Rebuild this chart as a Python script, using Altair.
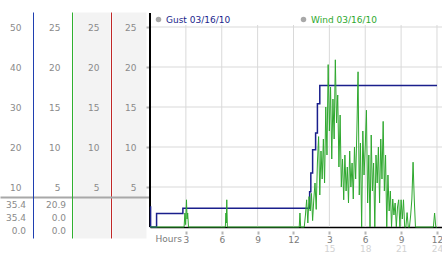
import altair as alt
import pandas as pd

# ---------------- data ----------------
gust_hours = [0.0, 0.05, 0.55, 2.75, 13.35, 13.45, 13.6, 13.85, 14.0, 14.2, 24.0]
gust_mph = [5.0, 0.0, 3.4, 4.7, 8.8, 13.5, 19.3, 23.5, 30.8, 35.4, 35.4]

wind_hours = [0.0, 2.85, 2.92, 2.98, 3.05, 3.1, 3.15, 3.22,
              6.3, 6.35, 6.38, 6.42, 6.47,
              12.48, 12.54, 12.6,
              12.8, 12.9, 13.0, 13.1, 13.2, 13.3, 13.4, 13.5, 13.6, 13.7, 13.8, 13.9,
              14.0, 14.1, 14.2, 14.3, 14.4, 14.5, 14.6, 14.7, 14.8, 14.9,
              15.0, 15.1, 15.2, 15.3, 15.4, 15.5, 15.6, 15.7, 15.8, 15.9,
              16.0, 16.1, 16.2, 16.3, 16.4, 16.5, 16.6, 16.7, 16.8, 16.9,
              17.0, 17.1, 17.2, 17.3, 17.4, 17.5, 17.6, 17.7, 17.8, 17.9,
              18.0, 18.1, 18.2, 18.3, 18.4, 18.5, 18.6, 18.7, 18.8, 18.9,
              19.0, 19.1, 19.2, 19.3, 19.4, 19.5, 19.6, 19.7, 19.8, 19.9,
              20.0, 20.1, 20.2, 20.3, 20.4, 20.5, 20.6, 20.7, 20.8, 20.9,
              21.0, 21.1, 21.2, 21.3, 21.4, 21.5, 21.6, 21.7, 21.8, 21.9,
              22.0, 22.1, 22.2, 22.3,
              23.7, 23.8, 23.9, 24.0]
wind_mph = [0, 0, 1.75, 0.3, 3.4, 1.0, 1.75, 0,
            0, 1.75, 0.5, 3.4, 0,
            0, 1.75, 0,
            0, 0, 1.5, 3.4, 0.5, 3.8, 2.0, 4.2, 0.8, 3.5, 5.5, 2.2,
            8.0, 11.3, 4.0, 9.5, 6.0, 11.0, 5.5, 15.0, 9.0, 20.3,
            12.0, 17.5, 8.5, 16.0, 11.0, 20.9, 13.0, 16.5, 7.5, 14.0,
            5.0, 8.5, 3.4, 9.0, 4.5, 7.5, 3.0, 9.5, 5.0, 8.0,
            3.5, 10.0, 6.0, 12.0, 19.4, 4.0, 10.5, 0, 12.0, 6.5,
            10.0, 14.6, 3.0, 9.0, 0, 11.5, 4.5, 8.0, 0, 9.0,
            5.5, 10.0, 3.0, 11.0, 6.0, 13.2, 4.5, 9.0, 0, 6.5,
            2.0, 4.5, 0, 3.5, 1.5, 3.0, 0, 2.5, 3.4, 0,
            3.4, 1.0, 3.4, 0, 0, 1.8, 0, 0, 1.5, 3.5,
            8.1, 3.5, 0, 0,
            0, 1.75, 0, 0]

grid_hours = [3, 6, 9, 12, 15, 18, 21, 24]
pm_hours = [15, 18, 21, 24]
wind_levels = [5, 10, 15, 20, 25]
gust_levels = [10, 20, 30, 40, 50]

stat_cols = ["gust", "gust", "gust", "wind", "wind", "wind"]
stat_rows = ["max", "cur", "min", "max", "cur", "min"]
stat_vals = [35.4, 35.4, 0.0, 20.9, 0.0, 0.0]

series_names = ["Gust 03/16/10", "Wind 03/16/10"]

# ---------------- styles ----------------
FONT = "DejaVu Sans"
TXT = "#8a8a8a"
GRID = "#d9d9d9"
BG = "#f3f3f3"
NAVY = "#1a1f8c"
GREEN = "#2ea82e"
AX_BLUE = "#1f3fb0"
AX_GREEN = "#30b030"
AX_RED = "#c02828"

W_DOM = [-1.375, 26.875]
G_DOM = [-2.75, 53.75]
X_DOM = [0, 24.42]


def xsc():
    return alt.Scale(domain=X_DOM, nice=False, zero=False)


def wsc():
    return alt.Scale(domain=W_DOM, nice=False, zero=False)


def gsc():
    return alt.Scale(domain=G_DOM, nice=False, zero=False)


def legend(x, color):
    return alt.Legend(orient="none", legendX=x, legendY=3, title=None,
                      symbolType="circle", symbolSize=30,
                      symbolFillColor="#a8a8a8", symbolStrokeWidth=0,
                      labelColor=color, labelFont=FONT, labelFontSize=9,
                      labelOffset=3, padding=0)


one = pd.DataFrame({"k": [0]})
gust_df = pd.DataFrame({"h": gust_hours, "v": gust_mph, "s": series_names[0]})
wind_df = pd.DataFrame({"h": wind_hours, "v": wind_mph, "s": series_names[1]})
vgrid_df = pd.DataFrame({"h": grid_hours})
hgrid_df = pd.DataFrame({"v": wind_levels})
stats_df = pd.DataFrame({"col": stat_cols, "row": stat_rows, "val": stat_vals})

# background bands of the two right-hand scale columns (axis domain lines)
band3 = alt.Chart(one).mark_rule(opacity=0).encode(
    y=alt.YDatum(0, scale=wsc(), axis=alt.Axis(
        orient="left", offset=58.5, domainWidth=37, domainColor=BG,
        labels=False, ticks=False, grid=False, title=None)))
band4 = alt.Chart(one).mark_rule(opacity=0).encode(
    y=alt.YDatum(0, scale=wsc(), axis=alt.Axis(
        orient="left", offset=21, domainWidth=34, domainColor=BG,
        labels=False, ticks=False, grid=False, title=None)))

# vertical grid lines, carrying the red scale column
vgrid = alt.Chart(vgrid_df).mark_rule(color=GRID, strokeWidth=1).encode(
    x=alt.X("h:Q", scale=xsc(), axis=None),
    y=alt.YDatum(0, scale=wsc(), axis=alt.Axis(
        orient="left", offset=39, values=wind_levels, domainColor=AX_RED,
        domainWidth=1, ticks=False, labelPadding=12, grid=False, title=None)),
    y2=alt.Y2Datum(25.25))

# horizontal grid lines, carrying the black scale column
hgrid = alt.Chart(hgrid_df).mark_rule(color=GRID, strokeWidth=1).encode(
    y=alt.Y("v:Q", scale=wsc(), axis=alt.Axis(
        orient="left", offset=0, values=wind_levels, domain=False,
        ticks=True, tickSize=5, tickColor="#b5b5b5", tickWidth=2,
        tickDash=[0, 1, 3, 10], labelPadding=9, grid=False, title=None)),
    x=alt.XDatum(0, scale=xsc(), axis=None),
    x2=alt.X2Datum(24.42))

# black left axis line + grey divider across the scale columns
vline = alt.Chart(one).mark_rule(color="black", strokeWidth=2).encode(
    x=alt.XDatum(0, scale=xsc(), axis=None),
    y=alt.YDatum(0, scale=wsc(), axis=alt.Axis(
        orient="left", offset=0, values=[3.75], tickSize=150, tickWidth=2,
        tickColor="#a8a8a8", labels=False, domain=False, grid=False, title=None)),
    y2=alt.Y2Datum(26.75))

gust_line = alt.Chart(gust_df).mark_line(interpolate="step-after", strokeWidth=1.5).encode(
    x=alt.X("h:Q", scale=xsc(), axis=alt.Axis(
        orient="bottom", offset=-11, values=grid_hours,
        labelExpr="datum.value > 12 ? datum.value - 12 : datum.value",
        domainColor="black", domainWidth=1.5,
        ticks=True, tickSize=7, tickColor="#b5b5b5", tickWidth=2, tickDash=[0, 4, 3, 20],
        labelPadding=1, labelColor="#7a7a7a", labelFlush=False, grid=False,
        title="Hours", titleX=5, titleY=7, titleAlign="left", titleAnchor="start",
        titleBaseline="top", titleColor="#7a7a7a", titleFontWeight="normal",
        titleFontSize=9)),
    y=alt.Y("v:Q", scale=gsc(), axis=alt.Axis(
        orient="left", offset=117, values=gust_levels, domainColor=AX_BLUE,
        domainWidth=1, ticks=False, labelPadding=12, grid=False, title=None)),
    color=alt.Color("s:N", scale=alt.Scale(domain=[series_names[0]], range=[NAVY]),
                    legend=legend(4, NAVY)))

wind_line = alt.Chart(wind_df).mark_line(strokeWidth=1).encode(
    x=alt.X("h:Q", scale=xsc(), axis=alt.Axis(
        orient="bottom", offset=-11, values=pm_hours, domain=False, ticks=False,
        labelPadding=17, labelColor="#d2d2d2", labelFlush=False, grid=False, title=None)),
    y=alt.Y("v:Q", scale=wsc(), axis=alt.Axis(
        orient="left", offset=78, values=wind_levels, domainColor=AX_GREEN,
        domainWidth=1, ticks=False, labelPadding=12, grid=False, title=None)),
    color=alt.Color("s:N", scale=alt.Scale(domain=[series_names[1]], range=[GREEN]),
                    legend=legend(149, GREEN)))

stats = alt.Chart(stats_df).mark_text(align="right", baseline="middle", font=FONT,
                                      fontSize=9, color=TXT).encode(
    x=alt.X("col:N", scale=alt.Scale(domain=["gust", "wind"], range=[-124, -84], padding=0), axis=None),
    y=alt.Y("row:N", scale=alt.Scale(domain=["max", "cur", "min"], range=[193, 219], padding=0), axis=None),
    text=alt.Text("val:Q", format=".1f"))

chart = alt.layer(band3, band4, vgrid, hgrid, vline, gust_line, wind_line, stats).resolve_scale(
    x="independent", y="independent", color="independent"
).resolve_axis(x="independent", y="independent").resolve_legend(color="independent").properties(
    width=292, height=226,
    padding={"left": 150, "top": 12, "right": 0, "bottom": 15},
    autosize=alt.AutoSizeParams(type="none"),
    background="white",
).configure_view(stroke=None).configure_axis(
    labelFont=FONT, labelFontSize=9, labelColor=TXT, titleFont=FONT
)

chart.save("out.html", embed_options={"renderer": "svg", "actions": False})
